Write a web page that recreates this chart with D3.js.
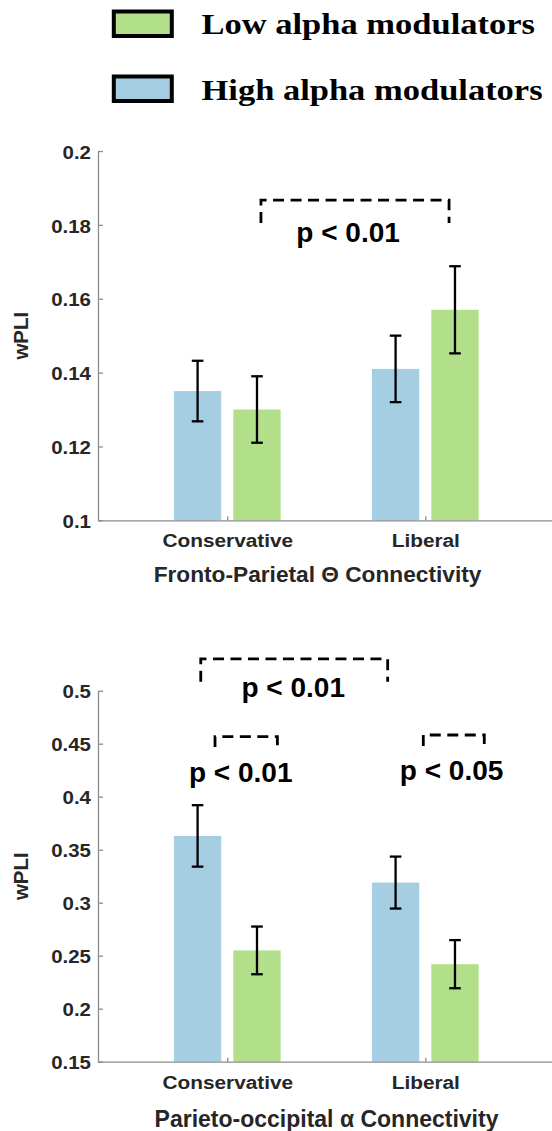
<!DOCTYPE html>
<html>
<head>
<meta charset="utf-8">
<script src="https://cdn.jsdelivr.net/npm/d3@7"></script>
<style>
  body { margin: 0; background: #fff; }
  svg { display: block; }
</style>
</head>
<body>
<svg id="chart" width="552" height="1131"></svg>
<script>
// ---- data ---------------------------------------------------------------
const categories = ["Conservative", "Liberal"];
const legendLabels = ["Low alpha modulators", "High alpha modulators"];

// Fronto-parietal theta wPLI (mean and standard error)
const thetaHigh = [0.135, 0.141];
const thetaHighErr = [0.0082, 0.009];
const thetaLow = [0.130, 0.157];
const thetaLowErr = [0.009, 0.0118];

// Parieto-occipital alpha wPLI (mean and standard error)
const alphaHigh = [0.363, 0.319];
const alphaHighErr = [0.029, 0.0245];
const alphaLow = [0.255, 0.242];
const alphaLowErr = [0.0225, 0.0227];

const thetaTicks = [0.1, 0.12, 0.14, 0.16, 0.18, 0.2];
const alphaTicks = [0.15, 0.2, 0.25, 0.3, 0.35, 0.4, 0.45, 0.5];

const thetaTitle = "Fronto-Parietal \u0398 Connectivity";
const alphaTitle = "Parieto-occipital \u03B1 Connectivity";
const yLabel = "wPLI";

// significance brackets, in data units (category axis: 1 = Conservative, 2 = Liberal)
const thetaSig = [
  { x0: 1.17, x1: 2.12, y: 0.1867, drop: 0.0062, label: "p < 0.01", tx: 1.61, ty: 0.1754 }
];
const alphaSig = [
  { x0: 0.866, x1: 1.81, y: 0.530, drop: 0.0215, label: "p < 0.01", tx: 1.333, ty: 0.4938 },
  { x0: 0.938, x1: 1.253, y: 0.4566, drop: 0.0096, label: "p < 0.01", tx: 1.068, ty: 0.4141 },
  { x0: 1.99, x1: 2.298, y: 0.4582, drop: 0.0104, label: "p < 0.05", tx: 2.133, ty: 0.4157 }
];

// ---- style --------------------------------------------------------------
const BLUE = "#a6cee3";
const GREEN = "#b2df8a";
const AXIS = "#8c8c8c";
const INK = "#262626";
const SANS = "'Liberation Sans', Arial, Helvetica, sans-serif";
const SERIF = "'Liberation Serif', 'Times New Roman', serif";

const svg = d3.select("#chart");

// ---- legend -------------------------------------------------------------
const legendColors = [GREEN, BLUE];
const legend = svg.append("g");
legendLabels.forEach((lab, i) => {
  const g = legend.append("g").attr("transform", `translate(0,${i * 65})`);
  g.append("rect")
    .attr("x", 113.8).attr("y", 11.5)
    .attr("width", 58).attr("height", 24.5)
    .attr("fill", legendColors[i])
    .attr("stroke", "#000").attr("stroke-width", 4);
  g.append("text")
    .attr("transform", `translate(201.5,${i === 0 ? 33.5 : 34.5}) scale(1.15,1)`)
    .attr("font-family", SERIF).attr("font-weight", "bold")
    .attr("font-size", 30).attr("fill", "#000")
    .text(lab);
});

// ---- panel --------------------------------------------------------------
function drawPanel(cfg) {
  const x = d3.scaleLinear().domain([0.347, 2.64]).range([98, 552]);
  const y = d3.scaleLinear().domain(cfg.domain).range([cfg.bottom, cfg.top]);
  const g = svg.append("g");

  const off = 0.15, half = 0.1195;
  const series = [
    { vals: cfg.high, errs: cfg.highErr, color: BLUE, dx: -off },
    { vals: cfg.low, errs: cfg.lowErr, color: GREEN, dx: off }
  ];

  // bars
  series.forEach(s => {
    g.selectAll(null).data(categories).join("rect")
      .attr("x", (c, i) => x(i + 1 + s.dx - half))
      .attr("width", x(half * 2) - x(0))
      .attr("y", (c, i) => y(s.vals[i]))
      .attr("height", (c, i) => y(cfg.domain[0]) - y(s.vals[i]))
      .attr("fill", s.color);
  });

  // error bars
  const capW = 5.8;
  series.forEach(s => {
    const eb = g.selectAll(null).data(categories).join("g")
      .attr("stroke", "#000").attr("stroke-width", 2.3).attr("fill", "none");
    eb.append("line")
      .attr("x1", (c, i) => x(i + 1 + s.dx)).attr("x2", (c, i) => x(i + 1 + s.dx))
      .attr("y1", (c, i) => y(s.vals[i] - s.errs[i]))
      .attr("y2", (c, i) => y(s.vals[i] + s.errs[i]));
    [-1, 1].forEach(sign => {
      eb.append("line")
        .attr("x1", (c, i) => x(i + 1 + s.dx) - capW)
        .attr("x2", (c, i) => x(i + 1 + s.dx) + capW)
        .attr("y1", (c, i) => y(s.vals[i] + sign * s.errs[i]))
        .attr("y2", (c, i) => y(s.vals[i] + sign * s.errs[i]));
    });
  });

  // y axis (ticks point inward)
  const yAxis = g.append("g").attr("transform", `translate(${x.range()[0]},0)`)
    .call(d3.axisLeft(y).tickValues(cfg.ticks).tickFormat(d3.format("~g"))
      .tickSizeInner(-5).tickSizeOuter(0).tickPadding(7));
  yAxis.selectAll(".domain, .tick line").attr("stroke", AXIS).attr("stroke-width", 1.3);
  yAxis.selectAll(".tick text")
    .attr("x", 0).attr("dy", null)
    .attr("transform", "translate(-7,7.2) scale(1.17,1)")
    .attr("text-anchor", "end")
    .attr("font-family", SANS).attr("font-weight", "bold")
    .attr("font-size", 17.5).attr("fill", INK);

  // x axis (category ticks)
  const xAxis = g.append("g").attr("transform", `translate(0,${cfg.bottom})`)
    .call(d3.axisBottom(x).tickValues([1, 2]).tickFormat(d => categories[d - 1])
      .tickSizeInner(-4).tickSizeOuter(0));
  xAxis.selectAll(".domain, .tick line").attr("stroke", AXIS).attr("stroke-width", 1.3);
  xAxis.selectAll(".tick text")
    .attr("y", 0).attr("dy", null)
    .attr("transform", "translate(0,27) scale(1.19,1)")
    .attr("font-family", SANS).attr("font-weight", "bold")
    .attr("font-size", 17.5).attr("fill", INK);

  // axis title
  g.append("text")
    .attr("transform", `translate(${(x.range()[0] + x.range()[1]) / 2 + cfg.titleShift},${cfg.bottom + cfg.titleGap})`)
    .attr("text-anchor", "middle")
    .attr("font-family", SANS).attr("font-weight", "bold")
    .attr("font-size", cfg.titleSize).attr("fill", INK)
    .text(cfg.title);

  // y label
  g.append("text")
    .attr("transform", `translate(27.5,${(cfg.top + cfg.bottom) / 2}) rotate(-90)`)
    .attr("text-anchor", "middle")
    .attr("font-family", SANS).attr("font-weight", "bold")
    .attr("font-size", 20.5).attr("fill", INK)
    .text(yLabel);

  // significance brackets
  g.selectAll(null).data(cfg.sig).join("path")
    .attr("d", d => `M${x(d.x0)},${y(d.y - d.drop)}V${y(d.y)}H${x(d.x1)}V${y(d.y - d.drop)}`)
    .attr("fill", "none").attr("stroke", "#000")
    .attr("stroke-width", 2.8).attr("stroke-dasharray", "11,6.5");
  g.selectAll(null).data(cfg.sig).join("text")
    .attr("x", d => x(d.tx)).attr("y", d => y(d.ty))
    .attr("text-anchor", "middle")
    .attr("font-family", SANS).attr("font-weight", "bold")
    .attr("font-size", 28).attr("fill", "#000")
    .text(d => d.label);
}

drawPanel({
  domain: [0.1, 0.2], top: 151, bottom: 520.3, ticks: thetaTicks,
  high: thetaHigh, highErr: thetaHighErr, low: thetaLow, lowErr: thetaLowErr,
  title: thetaTitle, titleSize: 22.7, titleGap: 61.5, titleShift: -7.5, sig: thetaSig
});

drawPanel({
  domain: [0.15, 0.5], top: 690.7, bottom: 1061.7, ticks: alphaTicks,
  high: alphaHigh, highErr: alphaHighErr, low: alphaLow, lowErr: alphaLowErr,
  title: alphaTitle, titleSize: 23, titleGap: 65, titleShift: 1.5, sig: alphaSig
});
</script>
</body>
</html>
